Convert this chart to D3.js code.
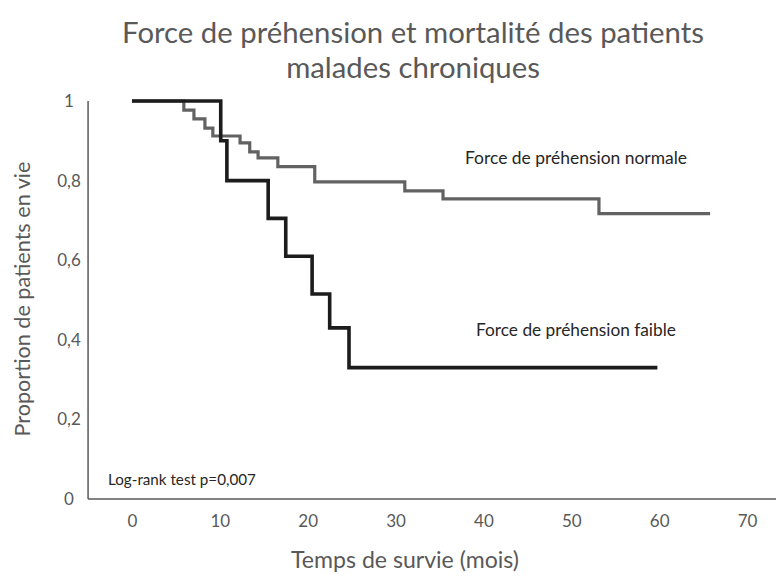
<!DOCTYPE html>
<html>
<head>
<meta charset="utf-8">
<script src="https://cdn.jsdelivr.net/npm/d3@7"></script>
<style>
  html, body { margin: 0; padding: 0; background: #fff; }
  svg { display: block; }
  text { font-family: Lato, "Open Sans", sans-serif; }
</style>
</head>
<body>
<svg id="chart" width="776" height="582"></svg>
<script>
// ---- data ----
const titleLines = ["Force de préhension et mortalité des patients", "malades chroniques"];
const xTicks = [0, 10, 20, 30, 40, 50, 60, 70];
const yTicks = [0, 0.2, 0.4, 0.6, 0.8, 1];
const yTickLabels = ["0", "0,2", "0,4", "0,6", "0,8", "1"];

const seriesNames = ["Force de préhension normale", "Force de préhension faible"];
const timesNormal = [0, 5.9, 7.05, 8.3, 9.2, 12.3, 13.4, 14.35, 16.6, 20.8, 31.05, 35.4, 53.15, 65.8];
const survNormal  = [1, 0.977, 0.955, 0.932, 0.912, 0.895, 0.872, 0.857, 0.835, 0.797, 0.774, 0.754, 0.717, 0.717];
const timesWeak = [0, 10.1, 10.8, 15.5, 17.5, 20.5, 22.5, 24.7, 59.8];
const survWeak  = [1, 0.9, 0.8, 0.705, 0.61, 0.515, 0.43, 0.33, 0.33];
const pValueText = "Log-rank test p=0,007";

// ---- helpers ----
function fitWidth(sel, w) {
  sel.each(function () {
    const el = d3.select(this);
    el.attr("font-size", 20);
    const len = this.getComputedTextLength();
    el.attr("font-size", (20 * w / len).toFixed(2));
  });
  return sel;
}

// ---- chart ----
const svg = d3.select("#chart");
const x = d3.scaleLinear().domain([0, 70]).range([132, 747]);
const y = d3.scaleLinear().domain([0, 1]).range([499, 101]);
const textColor = "#595959";

// title
const t1 = svg.append("text").attr("x", 413).attr("y", 43).attr("text-anchor", "middle")
  .attr("fill", textColor).text(titleLines[0]);
fitWidth(t1, 582);
const titleSize = t1.attr("font-size");
svg.append("text").attr("x", 413).attr("y", 78).attr("text-anchor", "middle")
  .attr("fill", textColor).attr("font-size", titleSize).text(titleLines[1]);

// frame (left + bottom axis lines)
const frame = svg.append("g").attr("stroke", textColor).attr("stroke-width", 1.5).attr("fill", "none");
frame.append("line").attr("x1", x(-5)).attr("x2", x(-5)).attr("y1", y(1)).attr("y2", y(0));
frame.append("line").attr("x1", x(-5)).attr("x2", 776).attr("y1", y(0)).attr("y2", y(0));

// x axis
const xAxis = d3.axisBottom(x).tickValues(xTicks).tickSize(0).tickPadding(0).tickFormat(d3.format("d"));
const gx = svg.append("g").attr("transform", `translate(0,${y(0) + 28})`).call(xAxis);
gx.select(".domain").remove();
gx.selectAll("text").attr("font-size", 17).attr("fill", textColor)
  .attr("dy", null).attr("font-family", "Lato, sans-serif");

// y axis
const yAxis = d3.axisLeft(y).tickValues(yTicks).tickSize(0).tickPadding(0)
  .tickFormat((d, i) => yTickLabels[i]);
const gy = svg.append("g").attr("transform", `translate(69,0)`).call(yAxis);
gy.select(".domain").remove();
gy.selectAll("text").attr("font-size", 17).attr("fill", textColor)
  .attr("text-anchor", "middle")
  .attr("font-family", "Lato, sans-serif");

// axis titles
const xt = svg.append("text").attr("x", 405).attr("y", 568).attr("text-anchor", "middle")
  .attr("fill", textColor).text("Temps de survie (mois)");
fitWidth(xt, 228);
const yt = svg.append("text").attr("transform", `translate(30,299) rotate(-90)`).attr("text-anchor", "middle")
  .attr("fill", textColor).text("Proportion de patients en vie");
fitWidth(yt, 275);

// curves
const line = d3.line().x(d => x(d[0])).y(d => y(d[1])).curve(d3.curveStepAfter);
const normalData = timesNormal.map((t, i) => [t, survNormal[i]]);
const weakData = timesWeak.map((t, i) => [t, survWeak[i]]);

svg.append("path").datum(normalData).attr("d", line)
  .attr("fill", "none").attr("stroke", "#626262").attr("stroke-width", 3.2);
svg.append("path").datum(weakData).attr("d", line)
  .attr("fill", "none").attr("stroke", "#1c1c1c").attr("stroke-width", 3.6);

// labels
fitWidth(svg.append("text").attr("x", 465).attr("y", 164).attr("fill", "#262626")
  .text(seriesNames[0]), 222);
fitWidth(svg.append("text").attr("x", 476).attr("y", 336).attr("fill", "#262626")
  .text(seriesNames[1]), 200);
fitWidth(svg.append("text").attr("x", 108).attr("y", 485).attr("fill", "#262626")
  .text(pValueText), 148);
</script>
</body>
</html>
